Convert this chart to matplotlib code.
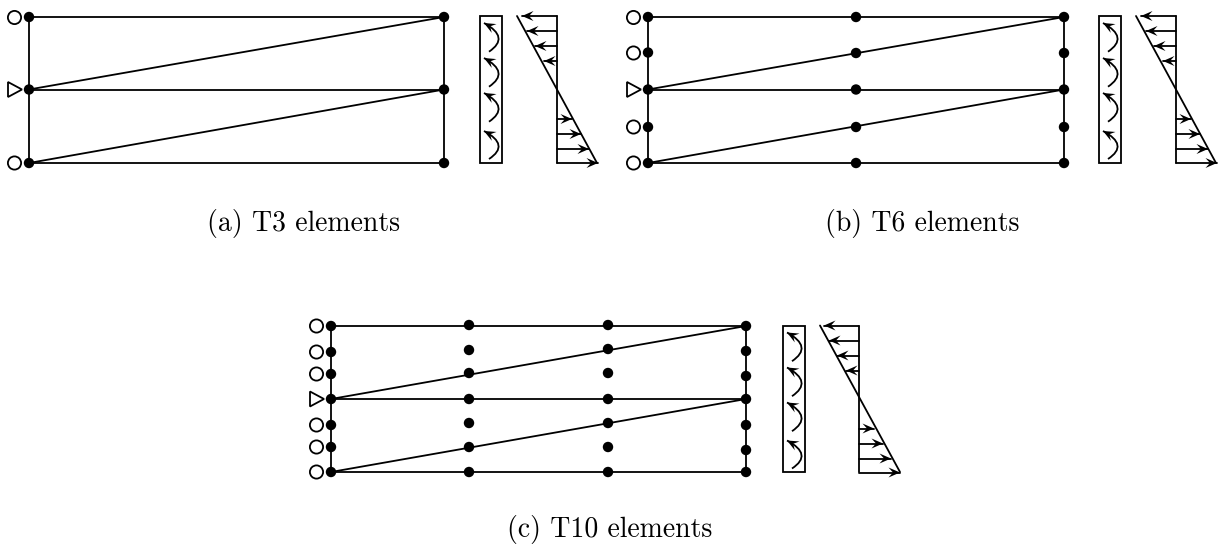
import matplotlib
matplotlib.use('Agg')
import matplotlib.pyplot as plt
from matplotlib.patches import Circle, Polygon, Rectangle, PathPatch
from matplotlib.path import Path
import math

# everything is in reference pixels
W = 1221
H = 546
lw = 1.3

# panel a, T3
a_cols = [29, 444]
a_rows = [[17, 89.5, 163], [17, 89.5, 163]]
a_supports = [17.5, 163]
a_tri = 89.5
a_stress_x = [480, 501.5, 557, 517, 597]

# panel b, T6
b_cols = [648, 856, 1064]
b_rows = [[17, 52.5, 89.5, 127, 163], [17, 53, 89.5, 127, 163], [17, 53, 89.5, 127, 163]]
b_supports = [17.5, 53, 127, 163]
b_tri = 89.5
b_stress_x = [1099, 1120.5, 1176, 1136, 1216]

# panel c, T10
c_cols = [331, 469, 608, 746]
c_rows = [[326, 352, 374, 399, 425, 447, 472],
          [325, 350, 373, 399, 423, 447, 472],
          [325, 349, 373, 399, 423, 447, 472],
          [326, 351, 376, 399, 425, 450, 472]]
c_supports = [326, 352, 374, 425, 447, 472]
c_tri = 399
c_stress_x = [783, 804.5, 859, 820, 900]

captions = ['(a) T3 elements', '(b) T6 elements', '(c) T10 elements']
caption_x = [303.5, 922, 610]
caption_y = [231, 231, 537]

# arrows along the section, offsets from the top of the panel
moment_start = [35.7, 70.7, 105.7, 143]
moment_tip = [7, 42, 77, 115]
shear_y = [0, 15, 30, 45, 103, 118, 133, 147]
shear_len = [35, 30, 22, 13, 15, 24, 32, 41]

fig = plt.figure(figsize=(W / 100, H / 100), dpi=100)
ax = fig.add_axes([0, 0, 1, 1])
ax.set_xlim(0, W)
ax.set_ylim(H, 0)
ax.axis('off')


def line(x0, y0, x1, y1):
    ax.plot([x0, x1], [y0, y1], color='black', lw=lw, solid_capstyle='round', zorder=2)


def head(tip_x, tip_y, from_x, from_y):
    # concave head, like the latex stealth tip
    d = math.hypot(tip_x - from_x, tip_y - from_y)
    ux = (tip_x - from_x) / d
    uy = (tip_y - from_y) / d
    pts = [(tip_x, tip_y),
           (tip_x - 11.5 * ux - 5 * uy, tip_y - 11.5 * uy + 5 * ux),
           (tip_x - 7 * ux, tip_y - 7 * uy),
           (tip_x - 11.5 * ux + 5 * uy, tip_y - 11.5 * uy - 5 * ux)]
    ax.add_patch(Polygon(pts, closed=True, fc='black', ec='none', zorder=3))


def arrow(x0, y0, x1, y1):
    line(x0, y0, x1, y1)
    head(x1, y1, x0, y0)


def curved_arrow(x0, y0, x1, y1, bulge):
    cx = (x0 + x1) / 2 + bulge
    cy = (y0 + y1) / 2
    path = Path([(x0, y0), (cx, cy), (x1, y1)], [Path.MOVETO, Path.CURVE3, Path.CURVE3])
    ax.add_patch(PathPatch(path, fc='none', ec='black', lw=lw, zorder=3))
    head(x1, y1, cx, cy)


def draw_mesh(cols, rows, supports, tri):
    x0 = cols[0]
    x1 = cols[-1]
    top = rows[0][0]
    mid = tri
    bot = rows[0][-1]
    line(x0, top, x1, top)
    line(x0, mid, x1, mid)
    line(x0, bot, x1, bot)
    line(x0, top, x0, bot)
    line(x1, top, x1, bot)
    line(x0, mid, x1, top)
    line(x0, bot, x1, mid)
    for c, col in zip(cols, rows):
        for r in col:
            ax.add_patch(Circle((c, r), 5.2, fc='black', ec='none', zorder=4))
    for s in supports:
        ax.add_patch(Circle((x0 - 14.5, s), 6.6, fc='white', ec='black', lw=lw, zorder=3))
    ax.add_patch(Polygon([(x0 - 21, tri - 7.5), (x0 - 21, tri + 7.5), (x0 - 7, tri)],
                         closed=True, fc='white', ec='black', lw=lw, zorder=3))


def draw_stress(xs, top, bot):
    box0, box1, shear, diag0, diag1 = xs
    ax.add_patch(Rectangle((box0, top), box1 - box0, bot - top, fc='none', ec='black', lw=lw, zorder=2))
    for s, t in zip(moment_start, moment_tip):
        curved_arrow(box0 + 9, top + s, box0 + 4, top + t, 24)
    line(shear, top, shear, bot)
    line(diag0, top, diag1, bot)
    for i in range(len(shear_y)):
        if i < 4:
            arrow(shear, top + shear_y[i], shear - shear_len[i], top + shear_y[i])
        else:
            arrow(shear, top + shear_y[i], shear + shear_len[i], top + shear_y[i])


draw_mesh(a_cols, a_rows, a_supports, a_tri)
draw_stress(a_stress_x, 16, 163)
draw_mesh(b_cols, b_rows, b_supports, b_tri)
draw_stress(b_stress_x, 16, 163)
draw_mesh(c_cols, c_rows, c_supports, c_tri)
draw_stress(c_stress_x, 325.5, 472)

for t, x, y in zip(captions, caption_x, caption_y):
    ax.text(x, y, t, family='cmr10', fontsize=20, ha='center', va='baseline', color='black')

fig.savefig('out.png', dpi=100)
